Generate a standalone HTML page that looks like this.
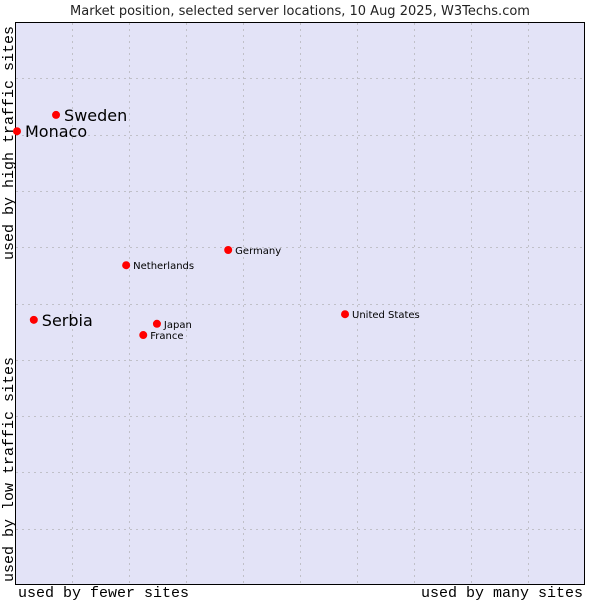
<!DOCTYPE html>
<html><head><meta charset="utf-8"><style>
body{margin:0;background:#fff;width:600px;height:600px;overflow:hidden}
svg{display:block}
</style></head><body>
<svg id="chart" width="600" height="600">
<text x="300" y="15" text-anchor="middle" font-family="DejaVu Sans, sans-serif" font-size="13" fill="#222">Market position, selected server locations, 10 Aug 2025, W3Techs.com</text>
<rect x="15.5" y="22.5" width="569" height="562" fill="#e3e3f7" stroke="#000"/>
<g id="grid"></g>
<g id="points"></g>
<text x="18" y="597" font-family="Liberation Mono, monospace" font-size="15" fill="#000">used by fewer sites</text>
<text x="583" y="597" text-anchor="end" font-family="Liberation Mono, monospace" font-size="15" fill="#000">used by many sites</text>
<text transform="translate(13,260) rotate(-90)" font-family="Liberation Mono, monospace" font-size="15" fill="#000">used by high traffic sites</text>
<text transform="translate(13,582) rotate(-90)" font-family="Liberation Mono, monospace" font-size="15" fill="#000">used by low traffic sites</text>
</svg>
<script>
const names = ["Monaco","Sweden","Serbia","Netherlands","Germany","Japan","France","United States"];
const xValues = [0.35,7.2,3.3,19.5,37.4,24.9,22.5,57.9];
const yValues = [80.6,83.5,47.1,56.8,59.5,46.4,44.4,48.1];
const featured = [true,true,true,false,false,false,false,false];
const L=15,R=585,T=22,B=585;
const sx=v=>L+v/100*(R-L), sy=v=>B-v/100*(B-T);
const ns="http://www.w3.org/2000/svg";
const grid=document.getElementById('grid'), pts=document.getElementById('points');
for(let i=1;i<10;i++){
  const x=Math.round(sx(i*10))+0.5, y=Math.round(sy(i*10))+0.5;
  const v=document.createElementNS(ns,'line');
  v.setAttribute('x1',x);v.setAttribute('x2',x);v.setAttribute('y1',T+1);v.setAttribute('y2',B);
  v.setAttribute('stroke','#c0c0c8');v.setAttribute('stroke-dasharray','2,4');
  
  
  grid.appendChild(v);
  const h=document.createElementNS(ns,'line');
  h.setAttribute('y1',y);h.setAttribute('y2',y);h.setAttribute('x1',L+1);h.setAttribute('x2',R);
  h.setAttribute('stroke','#c0c0c8');h.setAttribute('stroke-dasharray','2,4');
  
  
  grid.appendChild(h);
}
names.forEach((n,i)=>{
  const x=sx(xValues[i]), y=sy(yValues[i]);
  const c=document.createElementNS(ns,'circle');
  c.setAttribute('cx',x);c.setAttribute('cy',y);c.setAttribute('r',4);c.setAttribute('fill','#ff0000');
  
  
  pts.appendChild(c);
  const t=document.createElementNS(ns,'text');
  t.setAttribute('x',x+(featured[i]?8:7));t.setAttribute('y',y+(featured[i]?6:4));
  t.setAttribute('font-family','DejaVu Sans, sans-serif');
  t.setAttribute('font-size',featured[i]?16:10);t.setAttribute('fill','#000');
  t.textContent=n;
  
  
  pts.appendChild(t);
});
</script>
</body></html>
